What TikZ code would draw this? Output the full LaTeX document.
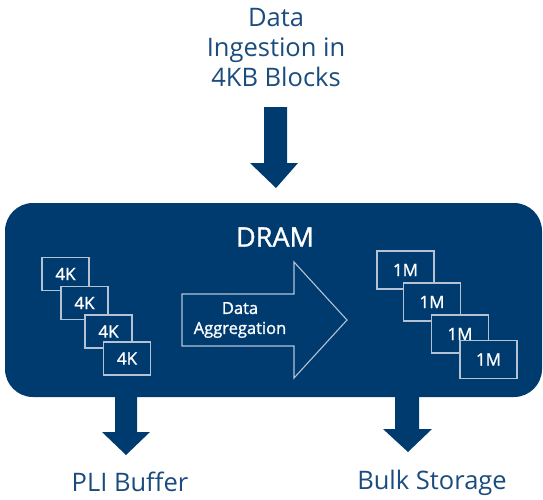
\documentclass[tikz,border=0pt]{standalone}
\usepackage{fontspec}
\setmainfont{Open Sans}
\newfontfamily\medfont{Open Sans}[FakeBold=1.2]
\definecolor{navy}{HTML}{003B70}
\definecolor{txtblue}{HTML}{1B4C7E}
\definecolor{edge}{HTML}{B4C2D4}
\begin{document}
\begin{tikzpicture}[x=1pt,y=-1pt,
  blk/.style={fill=navy,draw=none},
  kbox/.style={draw=edge,line width=1.1pt,fill=navy,text=white,minimum width=47pt,minimum height=33pt,inner sep=0pt,font=\medfont\fontsize{17}{17}\selectfont},
  mbox/.style={draw=edge,line width=1.1pt,fill=navy,text=white,minimum width=57pt,minimum height=38pt,inner sep=0pt,font=\medfont\fontsize{17}{17}\selectfont},
  lbl/.style={text=txtblue,align=center,inner sep=0pt}]
\useasboundingbox (0,0) rectangle (543,499);
% main DRAM box
\node[blk,rounded corners=28pt,minimum width=537pt,minimum height=194pt,inner sep=0pt] (dram) at (273.5,300) {};
\node[text=white,font=\medfont\fontsize{27}{27}\selectfont,inner sep=0pt] (dramlbl) at (275,237) {DRAM};
% top text and arrow
\node[lbl,font=\fontsize{25.5}{30}\selectfont] (ingest) at (276,48) {Data\\Ingestion in\\4KB Blocks};
\fill[navy] (264,107) -- (287,107) -- (287,163) -- (298,163) -- (276,188) -- (250,163) -- (264,163) -- cycle;
% bottom arrows
\fill[navy] (115,396) -- (137,396) -- (137,432) -- (150,432) -- (126,455) -- (102,432) -- (115,432) -- cycle;
\fill[navy] (395,396) -- (419,396) -- (419,429) -- (432,429) -- (408,452) -- (383,429) -- (395,429) -- cycle;
\node[lbl,font=\fontsize{25.5}{25.5}\selectfont] (pli) at (130,482) {PLI Buffer};
\node[lbl,font=\fontsize{25.5}{25.5}\selectfont] (bulk) at (432,483) {Bulk Storage};
% 4K boxes
\node[kbox] (k1) at (65.5,274) {4K};
\node[kbox] (k2) at (84.5,303) {4K};
\node[kbox] (k3) at (108.5,331.5) {4K};
\node[kbox] (k4) at (127,358.5) {4K};
% 1M boxes
\node[mbox] (m1) at (405.5,270) {1M};
\node[mbox] (m2) at (432,302) {1M};
\node[mbox] (m3) at (460,334) {1M};
\node[mbox] (m4) at (488.5,359.5) {1M};
% aggregation arrow
\draw[draw=edge,line width=1.1pt,fill=navy,line join=miter] (182,294) -- (294,294) -- (294,262) -- (347,320) -- (294,378) -- (294,346) -- (182,346) -- cycle;
\node[text=white,align=center,font=\medfont\fontsize{16.5}{20}\selectfont,inner sep=0pt] (agg) at (240,320) {Data\\Aggregation};
\end{tikzpicture}
\end{document}
